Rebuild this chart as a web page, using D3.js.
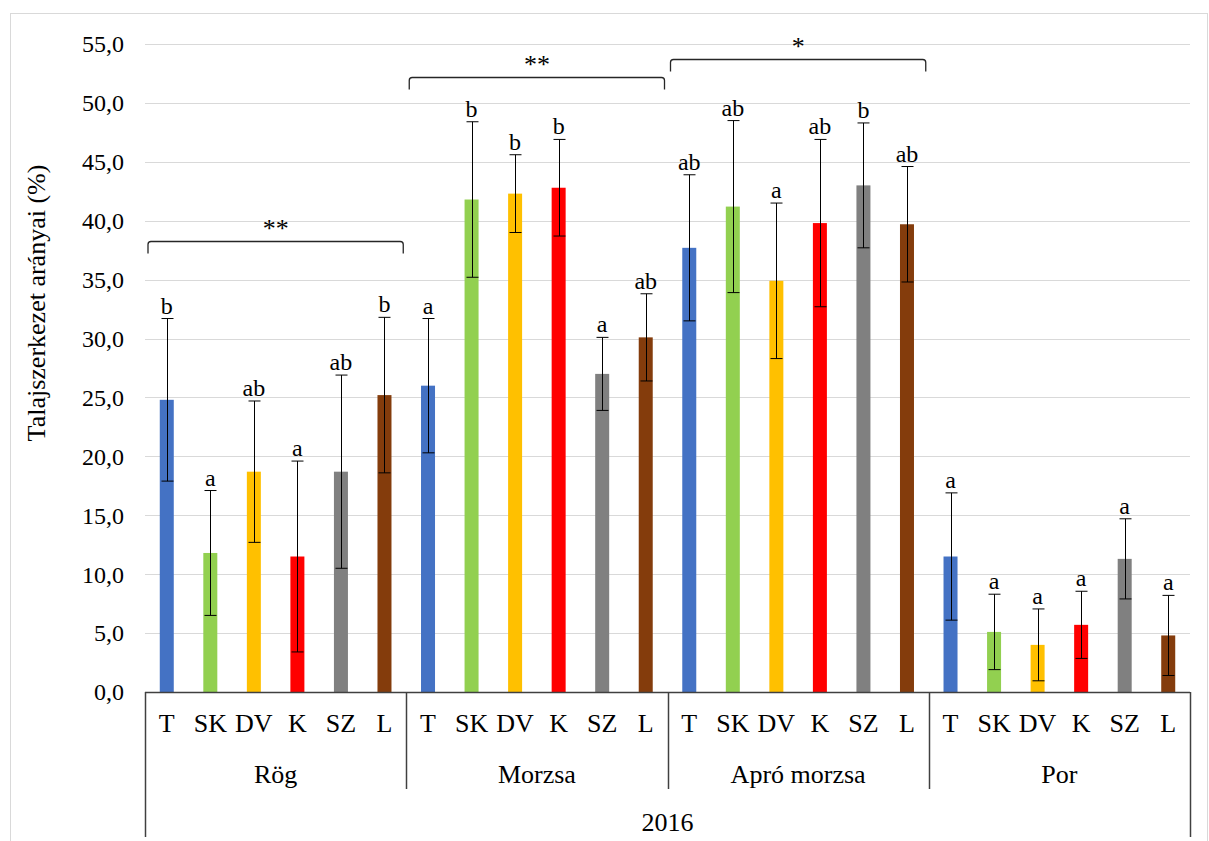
<!DOCTYPE html>
<html>
<head>
<meta charset="utf-8">
<script src="https://cdn.jsdelivr.net/npm/d3@7"></script>
<style>
  html, body { margin: 0; padding: 0; background: #fff; }
  svg { display: block; }
  svg text { font-family: "Liberation Serif", "Times New Roman", "DejaVu Serif", serif; fill: #000; }
</style>
</head>
<body>
<svg id="chart" width="1209" height="841" font-family="Liberation Serif, Times New Roman, DejaVu Serif, serif"></svg>
<script>
// ---- data ----
const groups = ["Rög", "Morzsa", "Apró morzsa", "Por"];
const treatments = ["T", "SK", "DV", "K", "SZ", "L"];
const colors = ["#4472C4", "#92D050", "#FFC000", "#FF0000", "#808080", "#843C0C"];
const yearLabel = "2016";
const yTicks = [0, 5, 10, 15, 20, 25, 30, 35, 40, 45, 50, 55];

const rogMeans = [24.8, 11.8, 18.7, 11.5, 18.7, 25.2];
const rogSD = [6.9, 5.3, 6.0, 8.1, 8.2, 6.6];
const rogLetters = ["b", "a", "ab", "a", "ab", "b"];

const morzsaMeans = [26.0, 41.8, 42.3, 42.8, 27.0, 30.1];
const morzsaSD = [5.7, 6.6, 3.3, 4.1, 3.1, 3.7];
const morzsaLetters = ["a", "b", "b", "b", "a", "ab"];

const aproMeans = [37.7, 41.2, 34.9, 39.8, 43.0, 39.7];
const aproSD = [6.2, 7.3, 6.6, 7.1, 5.3, 4.9];
const aproLetters = ["ab", "ab", "a", "ab", "b", "ab"];

const porMeans = [11.5, 5.1, 4.0, 5.7, 11.3, 4.8];
const porSD = [5.4, 3.2, 3.05, 2.85, 3.4, 3.4];
const porLetters = ["a", "a", "a", "a", "a", "a"];

// significance brackets: group, level (y value), label
const bracketGroups = ["Rög", "Morzsa", "Apró morzsa"];
const bracketLevels = [38.3, 52.2, 53.7];
const bracketLabels = ["**", "**", "*"];

(function () {
const FONT = "'Liberation Serif', 'Times New Roman', 'DejaVu Serif', serif";
// ---- build table ----
const seriesMeans = [rogMeans, morzsaMeans, aproMeans, porMeans];
const seriesSD = [rogSD, morzsaSD, aproSD, porSD];
const seriesLetters = [rogLetters, morzsaLetters, aproLetters, porLetters];
const rows = [];
groups.forEach((g, gi) => {
  treatments.forEach((t, ti) => {
    rows.push({group: g, treat: t, ti, mean: seriesMeans[gi][ti], sd: seriesSD[gi][ti], letter: seriesLetters[gi][ti]});
  });
});

// ---- layout ----
const pLeft = 145, pRight = 1190, pTop = 44, pBottom = 692;
const svg = d3.select("#chart");

svg.append("rect").attr("x", 10.5).attr("y", 13.5).attr("width", 1197).attr("height", 840)
  .attr("fill", "#fff").attr("stroke", "#d9d9d9").attr("stroke-width", 1);

const y = d3.scaleLinear().domain([0, 55]).range([pBottom, pTop]);
const xg = d3.scaleBand().domain(groups).range([pLeft, pRight]).padding(0);
const xt = d3.scaleBand().domain(treatments).range([0, xg.bandwidth()]).padding(0);
const barW = 14;

// gridlines
svg.append("g").selectAll("line").data(yTicks.filter(d => d > 0)).join("line")
  .attr("x1", pLeft).attr("x2", pRight)
  .attr("y1", d => Math.round(y(d)) + 0.5).attr("y2", d => Math.round(y(d)) + 0.5)
  .attr("stroke", "#d9d9d9").attr("stroke-width", 1);

// y axis labels
const fmt = d => d3.format(".1f")(d).replace(".", ",");
svg.append("g").selectAll("text").data(yTicks).join("text")
  .attr("x", 124).attr("y", d => y(d)).attr("dy", "0.35em")
  .attr("text-anchor", "end").style("font-family", FONT).style("font-size", "24px").text(fmt);

// y title
svg.append("text")
  .attr("transform", `translate(45,303) rotate(-90)`)
  .attr("text-anchor", "middle").style("font-family", FONT).style("font-size", "26px")
  .text("Talajszerkezet arányai (%)");

const cx = d => xg(d.group) + xt(d.treat) + xt.bandwidth() / 2;

// bars
svg.append("g").selectAll("rect").data(rows).join("rect")
  .attr("x", d => cx(d) - barW / 2).attr("width", barW)
  .attr("y", d => y(d.mean)).attr("height", d => y(0) - y(d.mean))
  .attr("fill", d => colors[d.ti]);

// error bars
const eb = svg.append("g").attr("stroke", "#000").attr("stroke-width", 1);
rows.forEach(d => {
  const x0 = Math.round(cx(d)) + 0.5;
  const yt = y(d.mean + d.sd), yb = y(Math.max(0, d.mean - d.sd));
  eb.append("line").attr("x1", x0).attr("x2", x0).attr("y1", yt).attr("y2", yb);
  eb.append("line").attr("x1", x0 - 6).attr("x2", x0 + 6).attr("y1", yt).attr("y2", yt);
  eb.append("line").attr("x1", x0 - 6).attr("x2", x0 + 6).attr("y1", yb).attr("y2", yb);
});

// letters
svg.append("g").selectAll("text").data(rows).join("text")
  .attr("x", d => cx(d)).attr("y", d => y(d.mean + d.sd) - 5)
  .attr("text-anchor", "middle").style("font-family", FONT).style("font-size", "24px").text(d => d.letter);

// x axis line
svg.append("line").attr("x1", pLeft).attr("x2", pRight).attr("y1", pBottom + 0.5).attr("y2", pBottom + 0.5)
  .attr("stroke", "#404040").attr("stroke-width", 1.5);

// group separators
const seps = groups.map(g => xg(g)).concat([pRight]);
svg.append("g").selectAll("line").data(seps).join("line")
  .attr("x1", d => Math.round(d) + 0.5).attr("x2", d => Math.round(d) + 0.5)
  .attr("y1", pBottom).attr("y2", (d, i) => (i === 0 || i === seps.length - 1) ? 837 : 789)
  .attr("stroke", "#404040").attr("stroke-width", 1.5);

// category labels
svg.append("g").selectAll("text").data(rows).join("text")
  .attr("x", d => cx(d)).attr("y", 732)
  .attr("text-anchor", "middle").style("font-family", FONT).style("font-size", "26px").text(d => d.treat);

// group labels
svg.append("g").selectAll("text").data(groups).join("text")
  .attr("x", g => xg(g) + xg.bandwidth() / 2).attr("y", 783)
  .attr("text-anchor", "middle").style("font-family", FONT).style("font-size", "26px").text(g => g);

// year
svg.append("text").attr("x", (pLeft + pRight) / 2).attr("y", 831)
  .attr("text-anchor", "middle").style("font-family", FONT).style("font-size", "26px").text(yearLabel);

// brackets
const br = svg.append("g");
bracketGroups.forEach((g, i) => {
  const x1 = xg(g) + 3, x2 = xg(g) + xg.bandwidth() - 3;
  const yy = Math.round(y(bracketLevels[i])) + 0.5;
  br.append("path")
    .attr("d", `M${x1},${yy + 12} L${x1},${yy + 3} Q${x1},${yy} ${x1 + 3},${yy} L${x2 - 3},${yy} Q${x2},${yy} ${x2},${yy + 3} L${x2},${yy + 12}`)
    .attr("fill", "none").attr("stroke", "#262626").attr("stroke-width", 1.3);
  br.append("text").attr("x", (x1 + x2) / 2).attr("y", yy - 5)
    .attr("text-anchor", "middle").style("font-family", FONT).style("font-size", "26px")
    .text(bracketLabels[i]);
});
})();
</script>
</body>
</html>
